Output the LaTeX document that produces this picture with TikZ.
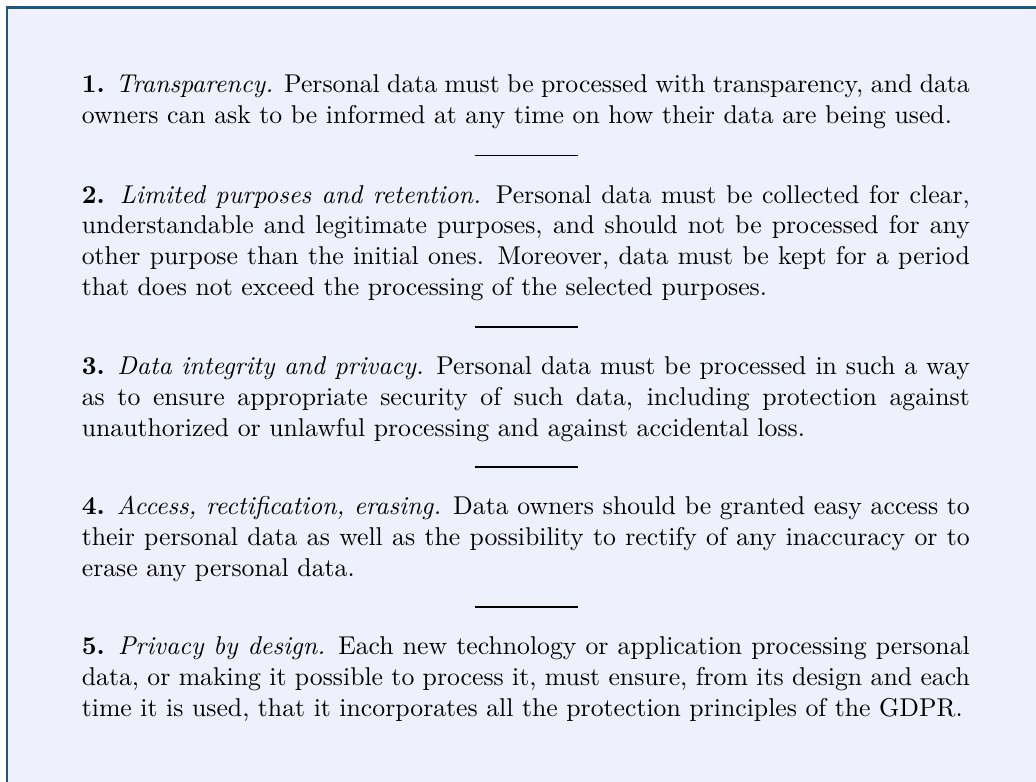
\documentclass[tikz,border=0pt]{standalone}
\definecolor{frameblue}{RGB}{28,88,130}
\definecolor{panelfill}{RGB}{238,240,251}
\begin{document}
\begin{tikzpicture}[x=1pt,y=1pt,
  principle/.style={anchor=base west, inner sep=0pt, text width=345pt,
    align=justify, font=\normalsize},
  divider/.style={inner sep=0pt, anchor=center}]
\useasboundingbox (0,0) rectangle (402.5,-303.8);
\clip (0,0) rectangle (402.5,-303.8);
% framed panel, running off the right and bottom edges
\draw[frameblue, line width=0.8pt, fill=panelfill] (2.8,-2.9) rectangle (440,-340);

\node[principle] (p1) at (31.6,-36.1) {\textbf{1.} \textit{Transparency.} Personal data must be processed with transparency, and data owners can ask to be informed at any time on how their data are being used.};
\node[divider] (r1) at (204.4,-60.4) {\rule{40pt}{0.6pt}};

\node[principle] (p2) at (31.6,-78.9) {\textbf{2.} \textit{Limited purposes and retention.} Personal data must be collected for clear, understandable and legitimate purposes, and should not be processed for any other purpose than the initial ones. Moreover, data must be kept for a period that does not exceed the processing of the selected purposes.};
\node[divider] (r2) at (204.4,-127.0) {\rule{40pt}{0.6pt}};

\node[principle] (p3) at (31.6,-145.5) {\textbf{3.} \textit{Data integrity and privacy.} Personal data must be processed in such a way\linebreak as to ensure appropriate security of such data, including protection against unauthorized or unlawful processing and against accidental loss.};
\node[divider] (r3) at (204.4,-181.4) {\rule{40pt}{0.6pt}};

\node[principle] (p4) at (31.6,-199.9) {\textbf{4.} \textit{Access, rectification, erasing.} Data owners should be granted easy access to their personal data as well as the possibility to rectify of any inaccuracy or to erase any personal data.};
\node[divider] (r4) at (204.4,-235.8) {\rule{40pt}{0.6pt}};

\node[principle] (p5) at (31.6,-254.3) {\textbf{5.} \textit{Privacy by design.} Each new technology or application processing personal data, or making it possible to process it, must ensure, from its design and each time it is used, that it incorporates all the protection principles of the GDPR.};
\end{tikzpicture}
\end{document}
